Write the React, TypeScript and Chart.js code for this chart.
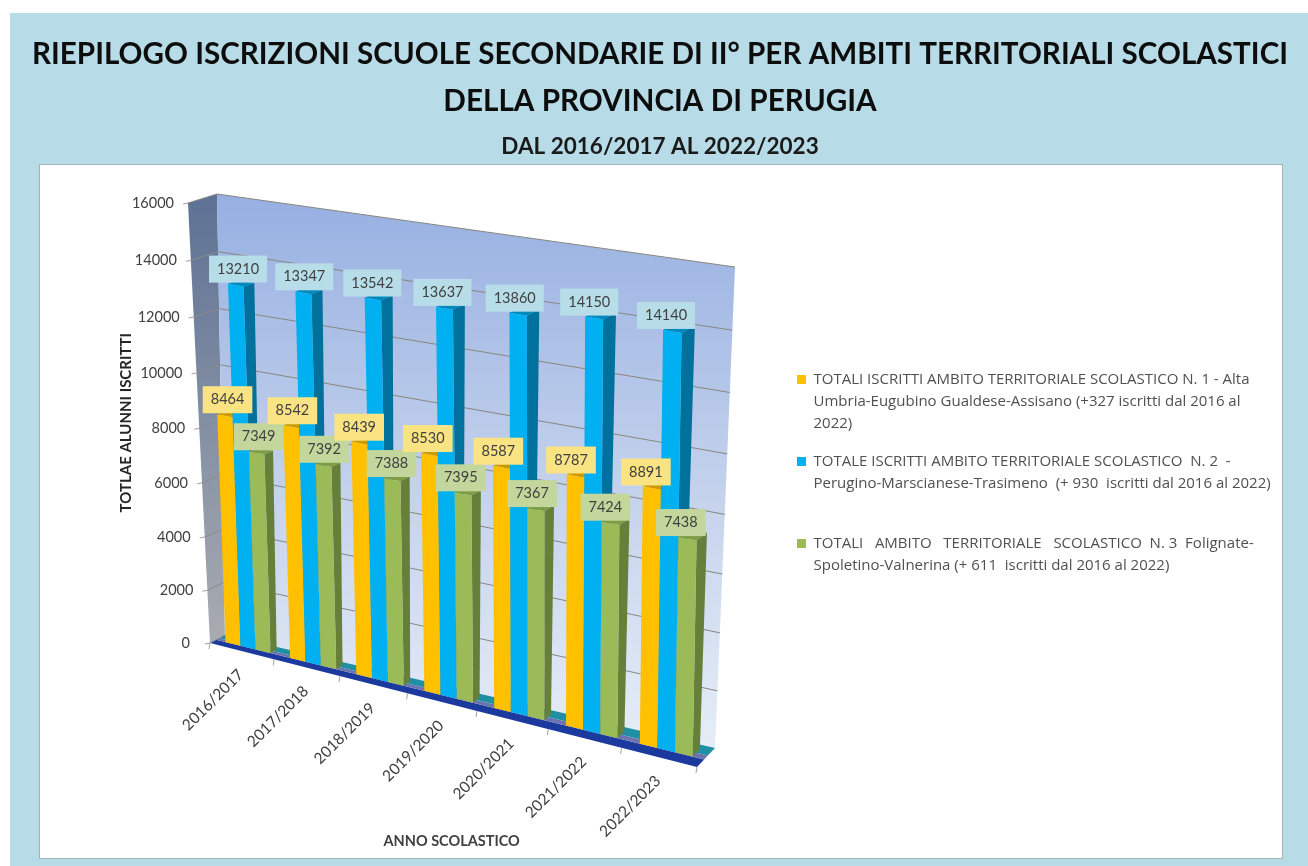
import React, { useEffect, useRef } from "react";
import { Chart, registerables } from "chart.js";

Chart.register(...registerables);

const categories = ["2016/2017", "2017/2018", "2018/2019", "2019/2020", "2020/2021", "2021/2022", "2022/2023"];
const ambito1 = [8464, 8542, 8439, 8530, 8587, 8787, 8891];
const ambito2 = [13210, 13347, 13542, 13637, 13860, 14150, 14140];
const ambito3 = [7349, 7392, 7388, 7395, 7367, 7424, 7438];

const legend1 = [
  "TOTALI ISCRITTI AMBITO TERRITORIALE SCOLASTICO N. 1 - Alta",
  "Umbria-Eugubino Gualdese-Assisano (+327 iscritti dal 2016 al",
  "2022)",
];
const legend2 = [
  "TOTALE ISCRITTI AMBITO TERRITORIALE SCOLASTICO  N. 2  -",
  "Perugino-Marscianese-Trasimeno  (+ 930  iscritti dal 2016 al 2022)",
  "",
];
const legend3 = [
  "TOTALI   AMBITO   TERRITORIALE   SCOLASTICO  N. 3  Folignate-",
  "Spoletino-Valnerina (+ 611  iscritti dal 2016 al 2022)",
];
const titleLines = [
  "RIEPILOGO ISCRIZIONI SCUOLE SECONDARIE DI II° PER AMBITI TERRITORIALI SCOLASTICI",
  "DELLA PROVINCIA DI PERUGIA",
];
const subtitleText = "DAL 2016/2017 AL 2022/2023";

const FONT = "Lato";
const styles = [
  { face: "#FFC000", side: "#B98C00", top: "#CC9A00", label: "#FAE383" },
  { face: "#00B0F0", side: "#00719C", top: "#0089BC", label: "#B7DEE8" },
  { face: "#9BBB59", side: "#66803A", top: "#7E9C44", label: "#C3D69B" },
];

type Pt = [number, number];

// Perspective frame of the plot box: corners (u,v) = (0,0), (1,0), (1,1), (0,1)
const FRONT_QUAD: Pt[] = [[210, 643], [697, 767], [699, 288], [188, 203]];
const BACK_QUAD: Pt[] = [[225, 635], [715, 748], [735, 267], [217, 194]];

function homography(q: Pt[]) {
  const [[x0, y0], [x1, y1], [x2, y2], [x3, y3]] = q;
  const dx1 = x1 - x2, dx2 = x3 - x2, sx = x0 - x1 + x2 - x3;
  const dy1 = y1 - y2, dy2 = y3 - y2, sy = y0 - y1 + y2 - y3;
  const den = dx1 * dy2 - dx2 * dy1;
  const g = (sx * dy2 - dx2 * sy) / den;
  const h = (dx1 * sy - sx * dy1) / den;
  const a = x1 - x0 + g * x1, b = x3 - x0 + h * x3;
  const d = y1 - y0 + g * y1, e = y3 - y0 + h * y3;
  return (u: number, v: number): Pt => {
    const w = g * u + h * v + 1;
    return [(a * u + b * v + x0) / w, (d * u + e * v + y0) / w];
  };
}
const frontMap = homography(FRONT_QUAD);
const backMap = homography(BACK_QUAD);
function project(u: number, v: number, w: number): Pt {
  const f = frontMap(u, v), b = backMap(u, v);
  return [f[0] + (b[0] - f[0]) * w, f[1] + (b[1] - f[1]) * w];
}
function poly(ctx: CanvasRenderingContext2D, pts: Pt[], fill: any) {
  ctx.beginPath();
  pts.forEach((p, i) => (i ? ctx.lineTo(p[0], p[1]) : ctx.moveTo(p[0], p[1])));
  ctx.closePath();
  ctx.fillStyle = fill;
  ctx.fill();
}
function seg(ctx: CanvasRenderingContext2D, a: Pt, b: Pt, color: string) {
  ctx.beginPath();
  ctx.moveTo(a[0], a[1]);
  ctx.lineTo(b[0], b[1]);
  ctx.strokeStyle = color;
  ctx.lineWidth = 1;
  ctx.stroke();
}

const BAR_W0 = 0.4;
const BAR_W1 = 0.8;

const pagePlugin = {
  id: "page",
  beforeDraw(chart: any) {
    const { ctx, width, height } = chart;
    ctx.save();
    ctx.fillStyle = "#ffffff";
    ctx.fillRect(0, 0, width, height);
    ctx.fillStyle = "#B7DCE8";
    ctx.fillRect(10, 13, width - 10, height - 13);
    ctx.fillStyle = "#ffffff";
    ctx.fillRect(40, 165, 1242, 693);
    ctx.strokeStyle = "#9fb4ba";
    ctx.lineWidth = 1;
    ctx.strokeRect(39.5, 164.5, 1243, 694);
    ctx.restore();
  },
  afterLayout(chart: any) {
    const l = chart.legend;
    l.top = 356;
    l.bottom = 620;
    l.left = 781;
    l.right = 1308;
  },
};

const scene3dPlugin = {
  id: "scene3d",
  beforeDatasetsDraw(chart: any) {
    const { ctx, chartArea: ca, scales } = chart;
    const yScale = scales.y;
    const xScale = scales.x;
    const uOf = (x: number) => (x - ca.left) / (ca.right - ca.left);
    const vOf = (y: number) => (ca.bottom - y) / (ca.bottom - ca.top);
    ctx.save();

    // side wall
    const sg = ctx.createLinearGradient(0, 195, 0, 645);
    sg.addColorStop(0, "#5D7195");
    sg.addColorStop(1, "#A9ACB1");
    poly(ctx, [project(0, 0, 0), project(0, 0, 1), project(0, 1, 1), project(0, 1, 0)], sg);

    // back wall
    const wg = ctx.createLinearGradient(0, 194, 0, 748);
    wg.addColorStop(0, "#97B0E2");
    wg.addColorStop(0.55, "#C5D3EC");
    wg.addColorStop(1, "#E6EDF7");
    poly(ctx, [project(0, 0, 1), project(1, 0, 1), project(1, 1, 1), project(0, 1, 1)], wg);

    // floor bands
    const bands: [number, number, string][] = [[0, 0.4, "#1C3A9E"], [0.4, 0.6, "#6C74B0"], [0.6, 1, "#1F8FA3"]];
    for (const [a, b, c] of bands) {
      poly(ctx, [project(0, 0, a), project(1, 0, a), project(1, 0, b), project(0, 0, b)], c);
    }

    // grid lines and value ticks
    ctx.font = `14.5px ${FONT}`;
    ctx.textAlign = "right";
    ctx.textBaseline = "middle";
    yScale.ticks.forEach((t: any) => {
      const v = vOf(yScale.getPixelForValue(t.value));
      const f = project(0, v, 0);
      if (t.value > 0) seg(ctx, project(0, v, 1), project(1, v, 1), "#8A8680");
      seg(ctx, f, project(0, v, 1), "#8b8a88");
      seg(ctx, [f[0] - 5, f[1] + 1], f, "#a0a0a0");
      ctx.fillStyle = "#404040";
      ctx.fillText(String(t.value), f[0] - 14 + (t.value === 0 ? -6 : 0), f[1]);
    });

    // category ticks and rotated labels
    const n = categories.length;
    for (let i = 0; i <= n; i++) {
      const p = project(i / n, 0, 0);
      seg(ctx, p, [p[0] - 1, p[1] + 6], "#a0a0a0");
    }
    categories.forEach((_, i) => {
      const u = uOf(xScale.getPixelForValue(i));
      const p = project(u, 0, 0);
      ctx.save();
      ctx.translate(p[0] - 1, p[1] + 21);
      ctx.rotate(-Math.PI / 4);
      ctx.font = `15.5px ${FONT}`;
      ctx.textAlign = "right";
      ctx.fillStyle = "#404040";
      ctx.fillText(xScale.getLabelForValue(i), 0, 0);
      ctx.restore();
    });

    // bars, left to right
    const labels: any[] = [];
    for (let i = 0; i < n; i++) {
      chart.data.datasets.forEach((ds: any, di: number) => {
        const el = chart.getDatasetMeta(di).data[i];
        const { x, y, base, width } = el.getProps(["x", "y", "base", "width"], true);
        const u0 = uOf(x - width / 2), u1 = uOf(x + width / 2);
        const v0 = vOf(base), v1 = vOf(y);
        const s = styles[di];
        poly(ctx, [project(u1, v0, BAR_W0), project(u1, v0, BAR_W1), project(u1, v1, BAR_W1), project(u1, v1, BAR_W0)], s.side);
        poly(ctx, [project(u0, v1, BAR_W0), project(u1, v1, BAR_W0), project(u1, v1, BAR_W1), project(u0, v1, BAR_W1)], s.top);
        poly(ctx, [project(u0, v0, BAR_W0), project(u1, v0, BAR_W0), project(u1, v1, BAR_W0), project(u0, v1, BAR_W0)], s.face);
        labels.push({ p: project((u0 + u1) / 2, v1, BAR_W0), u: (u0 + u1) / 2, text: String(ds.data[i]), fill: s.label });
      });
    }

    // value labels on top of everything
    ctx.font = `14.5px ${FONT}`;
    ctx.textAlign = "center";
    ctx.textBaseline = "middle";
    labels.forEach((l) => {
      const w = ctx.measureText(l.text).width + 16;
      const cx = l.p[0] + 3 - 10 * l.u;
      const cy = l.p[1] - 16;
      ctx.fillStyle = l.fill;
      ctx.fillRect(cx - w / 2, cy - 13.5, w, 27);
      ctx.fillStyle = "#404040";
      ctx.fillText(l.text, cx, cy);
    });

    ctx.restore();
    return false;
  },
};

export default function App() {
  const ref = useRef<HTMLCanvasElement>(null);
  useEffect(() => {
    const chart = new Chart(ref.current as HTMLCanvasElement, {
      type: "bar",
      data: {
        labels: categories,
        datasets: [
          { label: legend1 as any, data: ambito1, backgroundColor: styles[0].face },
          { label: legend2 as any, data: ambito2, backgroundColor: styles[1].face },
          { label: legend3 as any, data: ambito3, backgroundColor: styles[2].face },
        ],
      },
      options: {
        responsive: false,
        animation: false,
        events: [],
        datasets: { bar: { barPercentage: 1, categoryPercentage: 0.7 } },
        layout: { padding: { left: 32, right: 20, top: 0, bottom: 16 } },
        scales: {
          x: {
            grid: { display: false },
            border: { display: false },
            ticks: { display: false },
            title: {
              display: true,
              text: "ANNO SCOLASTICO",
              color: "#404040",
              font: { family: FONT, size: 14.5, weight: "bold" },
              padding: { top: 188, bottom: 0 },
            },
          },
          y: {
            min: 0,
            max: 16000,
            grid: { display: false },
            border: { display: false },
            ticks: { display: false, stepSize: 2000 },
            afterFit: (s: any) => {
              s.width = 83;
            },
            title: {
              display: true,
              text: "TOTLAE ALUNNI ISCRITTI",
              color: "#262626",
              font: { family: FONT, size: 15, weight: "bold" },
              padding: { top: 85, bottom: 0 },
            },
          },
        },
        plugins: {
          title: {
            display: true,
            text: titleLines,
            color: "#0d0d0d",
            font: { family: FONT, size: 29.7, weight: "bold", lineHeight: 47 / 29.7 },
            padding: { top: 31, bottom: 0 },
          },
          subtitle: {
            display: true,
            text: subtitleText,
            color: "#1a1a1a",
            font: { family: FONT, size: 22.5, weight: "bold", lineHeight: 1.2 },
            padding: { top: 8, bottom: 49 },
          },
          legend: {
            display: true,
            position: "right",
            align: "start",
            maxWidth: 503,
            labels: {
              boxWidth: 9,
              boxHeight: 9,
              padding: 16,
              color: "#505050",
              font: { family: "Open Sans", size: 15, lineHeight: 22 / 15 },
            },
          },
          tooltip: { enabled: false },
        },
      } as any,
      plugins: [pagePlugin, scene3dPlugin],
    });
    return () => chart.destroy();
  }, []);
  return (
    <div style={{ position: "fixed", left: 0, top: 0, width: 1308, height: 866 }}>
      <canvas ref={ref} width={1308} height={866} style={{ display: "block" }} />
    </div>
  );
}
